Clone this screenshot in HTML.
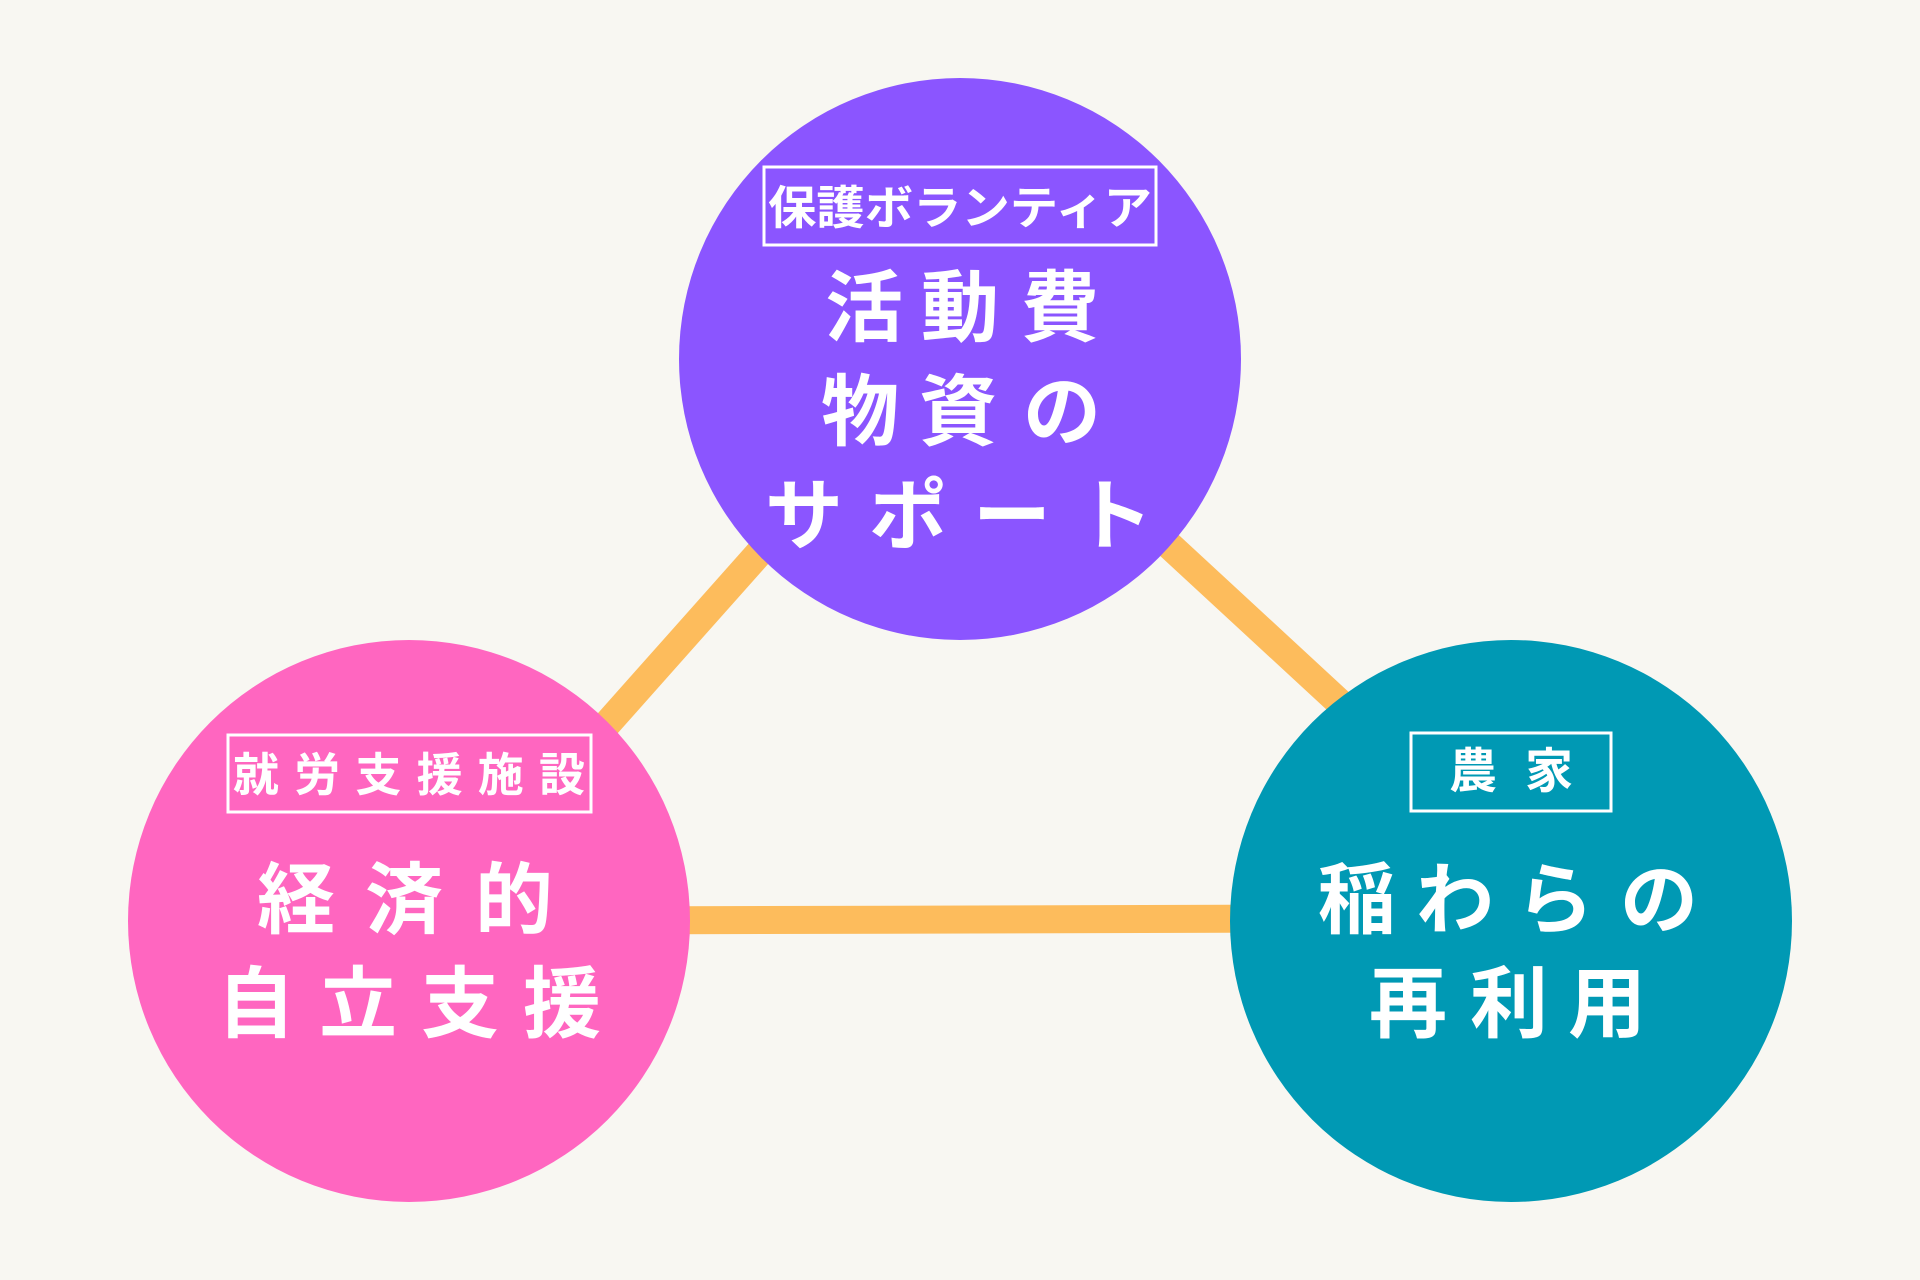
<!DOCTYPE html>
<html><head><meta charset="utf-8"><style>
html,body{margin:0;padding:0;background:#F8F7F2;}
svg{display:block}
text{font-family:"Liberation Sans","Noto Sans CJK JP",sans-serif;font-weight:700;fill:#fff;}
</style></head><body>
<svg width="1920" height="1280" viewBox="0 0 1920 1280" xmlns="http://www.w3.org/2000/svg">
<rect width="1920" height="1280" fill="#F8F7F2"/>
<g stroke="#FDBC5C" stroke-width="28" stroke-linecap="butt">
<line x1="560" y1="777" x2="800" y2="507"/>
<line x1="1130" y1="509" x2="1380" y2="740"/>
<line x1="409" y1="921" x2="1511" y2="918"/>
</g>
<circle cx="960" cy="359" r="281" fill="#8B55FF"/>
<circle cx="409" cy="921" r="281" fill="#FF66C0"/>
<circle cx="1511" cy="921" r="281" fill="#0099B4"/>
<g fill="none" stroke="#fff" stroke-width="3">
<rect x="764" y="167" width="392" height="78"/>
<rect x="228" y="735" width="363" height="77"/>
<rect x="1411" y="733" width="200" height="78"/>
</g>
<g font-size="46" dominant-baseline="central">
<text x="768" y="208" textLength="384" lengthAdjust="spacingAndGlyphs">保護ボランティア</text>
<text x="233" y="775" textLength="352" lengthAdjust="spacing">就労支援施設</text>
</g>
<g font-size="48" text-anchor="middle" dominant-baseline="central">
<text x="1473" y="772">農</text><text x="1549" y="772">家</text>
</g>
<g font-size="78" text-anchor="middle" dominant-baseline="central">
<text x="864" y="308">活</text><text x="960" y="308">動</text><text x="1060" y="308">費</text>
<text x="860" y="412">物</text><text x="958" y="412">資</text><text x="1062" y="412">の</text>
<text x="804" y="516">サ</text><text x="908" y="516">ポ</text><text x="1012" y="516">ー</text><text x="1114" y="516">ト</text>
<text x="296" y="900">経</text><text x="404" y="900">済</text><text x="514" y="900">的</text>
<text x="256" y="1004">自</text><text x="358" y="1004">立</text><text x="460" y="1004">支</text><text x="562" y="1004">援</text>
<text x="1357" y="900">稲</text><text x="1455" y="900">わ</text><text x="1555" y="900">ら</text><text x="1659" y="900">の</text>
<text x="1408" y="1004">再</text><text x="1509" y="1004">利</text><text x="1607" y="1004">用</text>
</g>
</svg>
</body></html>
